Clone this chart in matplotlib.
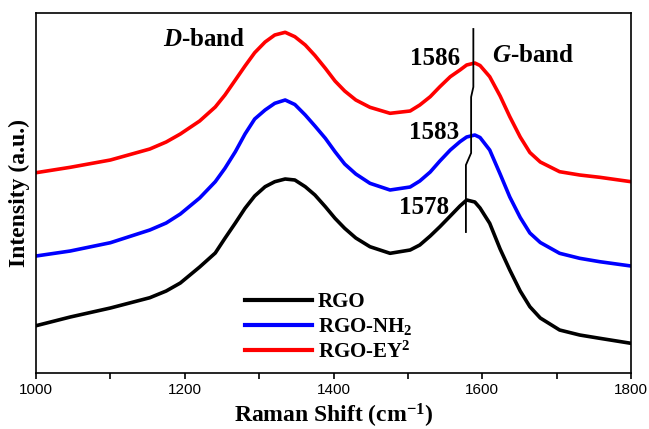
import matplotlib
matplotlib.use('Agg')
import matplotlib.pyplot as plt
import numpy as np

# Raman shift (cm-1) and intensities (a.u., curves already offset)
shift = [1000, 1046, 1100, 1153, 1175, 1194, 1220, 1241, 1254, 1268, 1281, 1294, 1308,
         1321, 1335, 1348, 1362, 1375, 1389, 1402, 1415, 1430, 1449, 1476, 1503, 1516,
         1530, 1543, 1557, 1570, 1579, 1590, 1597, 1610, 1624, 1637, 1651, 1664,
         1678, 1704, 1731, 1758, 1800]
rgo = [47.3, 56, 65, 75.3, 82, 90, 106, 120, 134.7, 150, 164.7, 177, 186.3,
       191.3, 194, 193, 186.3, 178, 166.3, 154.7, 144.7, 135, 126.3, 119.7, 123, 128,
       137, 146.3, 157, 167, 173, 171, 165, 149.7, 124, 103, 82, 66.3,
       55, 43, 38, 34.7, 29.7]
rgo_nh2 = [117, 122, 130.3, 143, 150, 159, 175, 191.3, 204.7, 221.3, 239, 254, 263,
           269.7, 273, 268.5, 258, 247, 234.7, 221.3, 209, 199, 189.7, 183, 186, 192,
           201, 212, 223, 231.3, 236, 238, 235.5, 223, 199, 176, 155.5, 140,
           130.5, 119.7, 114.7, 111.3, 107]
rgo_ey = [200.3, 205.7, 213, 224, 231, 239, 252, 266, 278, 293, 307, 320.3, 331,
          338, 340.7, 336.3, 328, 317.5, 304.7, 292, 282, 273, 265.7, 259.7, 262, 268,
          276.3, 286.3, 296.3, 303, 308, 310, 307.5, 296.3, 277, 256.3, 236, 220.5,
          211, 201.3, 198, 195.7, 191.3]

labels = ['RGO', 'RGO-NH$_2$', 'RGO-EY$^2$']
colors = ['black', 'blue', 'red']

# G-band peak guide line
guide_x = [1588, 1588, 1585, 1585, 1578, 1578]
guide_y = [344, 286, 276, 220, 208, 141]
peak_labels = ['1586', '1583', '1578']

plt.rcParams['font.family'] = 'Liberation Serif'
plt.rcParams['font.weight'] = 'bold'
plt.rcParams['mathtext.fontset'] = 'custom'
plt.rcParams['mathtext.rm'] = 'Liberation Serif:bold'
plt.rcParams['mathtext.it'] = 'Liberation Serif:italic:bold'
plt.rcParams['mathtext.bf'] = 'Liberation Serif:bold'
plt.rcParams['mathtext.default'] = 'regular'

fig = plt.figure(figsize=(6.49, 4.29), dpi=100)
ax = fig.add_axes([0.0555, 0.1305, 0.9168, 0.8392])

for ys, lab, c in zip([rgo, rgo_nh2, rgo_ey], labels, colors):
    ax.plot(shift, ys, color=c, lw=2.6, label=lab)

ax.plot(guide_x, guide_y, color='black', lw=1.3)

ax.set_xlim(1000, 1800)
ax.set_ylim(0, 360)
ax.set_yticks([])
ax.set_xticks(np.arange(1000, 1801, 200))
ax.set_xticks(np.arange(1100, 1800, 200), minor=True)
ax.tick_params(axis='x', which='both', direction='out', length=4, width=1.2)
for lbl in ax.get_xticklabels():
    lbl.set_fontfamily('Liberation Sans')
    lbl.set_fontweight('normal')
    lbl.set_fontsize(11)
for sp in ax.spines.values():
    sp.set_linewidth(1.2)

ax.set_xlabel('Raman Shift (cm$^{-1}$)', fontsize=17, fontweight='bold', labelpad=3)
ax.set_ylabel('Intensity (a.u.)', fontsize=17, fontweight='bold', labelpad=4)

ax.text(1226, 333, '$\\mathit{D}$-band', fontsize=18, fontweight='bold', ha='center', va='center')
ax.text(1668, 318, '$\\mathit{G}$-band', fontsize=18, fontweight='bold', ha='center', va='center')
ax.text(1570, 315, peak_labels[0], fontsize=18, fontweight='bold', ha='right', va='center')
ax.text(1569, 241, peak_labels[1], fontsize=18, fontweight='bold', ha='right', va='center')
ax.text(1555, 166, peak_labels[2], fontsize=18, fontweight='bold', ha='right', va='center')

leg = ax.legend(loc='upper left', bbox_to_anchor=(0.33, 0.26), frameon=False,
                fontsize=15, handlelength=3.2, handletextpad=0.3, labelspacing=0.2,
                borderpad=0.1)
for line in leg.get_lines():
    line.set_linewidth(3)

fig.savefig('out.png', dpi=100)
